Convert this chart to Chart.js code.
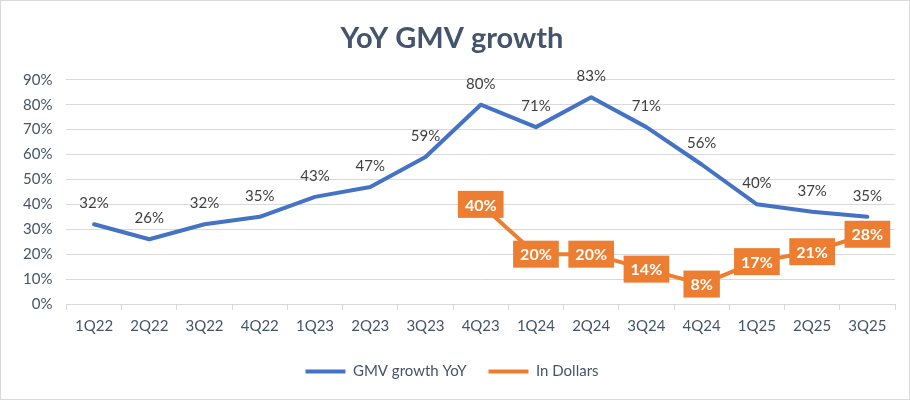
<!DOCTYPE html>
<html><head><meta charset="utf-8">
<script src="https://cdn.jsdelivr.net/npm/chart.js@4.4.0/dist/chart.umd.min.js"></script>
<style>
html,body{margin:0;padding:0;background:#fff;}
#wrap{position:relative;width:908px;height:398px;border:1px solid #D9D9D9;}
</style></head>
<body><div id="wrap"><canvas id="c" width="908" height="398"></canvas></div>
<script>
const categories = ["1Q22","2Q22","3Q22","4Q22","1Q23","2Q23","3Q23","4Q23","1Q24","2Q24","3Q24","4Q24","1Q25","2Q25","3Q25"];
const gmvGrowth = [32,26,32,35,43,47,59,80,71,83,71,56,40,37,35];
const inDollars = [null,null,null,null,null,null,null,40,20,20,14,8,17,21,28];
const yTicks = [0,10,20,30,40,50,60,70,80,90];

const FONT = "Lato, 'Open Sans', sans-serif";
const TXT = '#44546A';

const labelPlugin = {
  id: 'labels',
  afterDatasetsDraw(chart) {
    const ctx = chart.ctx;
    ctx.save();
    const m0 = chart.getDatasetMeta(0);
    ctx.font = "15px " + FONT;
    ctx.fillStyle = '#404040';
    ctx.textAlign = 'center';
    ctx.textBaseline = 'middle';
    m0.data.forEach((pt, i) => {
      const v = gmvGrowth[i];
      if (v == null) return;
      ctx.fillText(v + '%', pt.x, pt.y - 21);
    });
    const m1 = chart.getDatasetMeta(1);
    ctx.font = "bold 16px " + FONT;
    m1.data.forEach((pt, i) => {
      const v = inDollars[i];
      if (v == null) return;
      const t = v + '%';
      const w = ctx.measureText(t).width + 14;
      const h = 27;
      ctx.fillStyle = '#ED7D31';
      ctx.fillRect(pt.x - w/2, pt.y - h/2, w, h);
      ctx.fillStyle = '#FFFFFF';
      ctx.fillText(t, pt.x, pt.y + 1);
    });
    ctx.restore();
  }
};

new Chart(document.getElementById('c'), {
  type: 'line',
  data: {
    labels: categories,
    datasets: [
      { label: 'GMV growth YoY', data: gmvGrowth, borderColor: '#4472C4', backgroundColor: '#4472C4',
        borderWidth: 4, pointRadius: 0, tension: 0, borderJoinStyle: 'round', borderCapStyle: 'round' },
      { label: 'In Dollars', data: inDollars, borderColor: '#ED7D31', backgroundColor: '#ED7D31',
        borderWidth: 4, pointRadius: 0, tension: 0, borderJoinStyle: 'round', borderCapStyle: 'round', spanGaps: false }
    ]
  },
  options: {
    responsive: false,
    animation: false,
    devicePixelRatio: 1,
    layout: { padding: { left: 8, right: 14, top: 8, bottom: 10 } },
    plugins: {
      title: { display: true, text: 'YoY GMV growth', color: TXT,
        font: { family: FONT, size: 29, weight: 'bold' }, padding: { top: 12, bottom: 24 } },
      legend: { position: 'bottom', labels: { usePointStyle: true, pointStyle: 'line', pointStyleWidth: 40, boxHeight: 14,
        color: TXT, font: { family: FONT, size: 15 }, padding: 22 } },
      tooltip: { enabled: false }
    },
    scales: {
      x: {
        offset: true,
        grid: { display: true, drawOnChartArea: false, drawTicks: true, tickLength: 6, color: '#D9D9D9', offset: true },
        border: { display: true, color: '#D9D9D9', width: 1 },
        ticks: { color: TXT, font: { family: FONT, size: 15 }, padding: 7, maxRotation: 0 }
      },
      y: {
        min: 0, max: 90,
        afterBuildTicks(axis) { axis.ticks = yTicks.map(v => ({ value: v })); },
        grid: { color: '#D9D9D9', lineWidth: 1, drawTicks: false },
        border: { display: false },
        ticks: { color: TXT, font: { family: FONT, size: 15 }, padding: 14, callback: v => v + '%' }
      }
    }
  },
  plugins: [labelPlugin]
});
</script></body></html>
